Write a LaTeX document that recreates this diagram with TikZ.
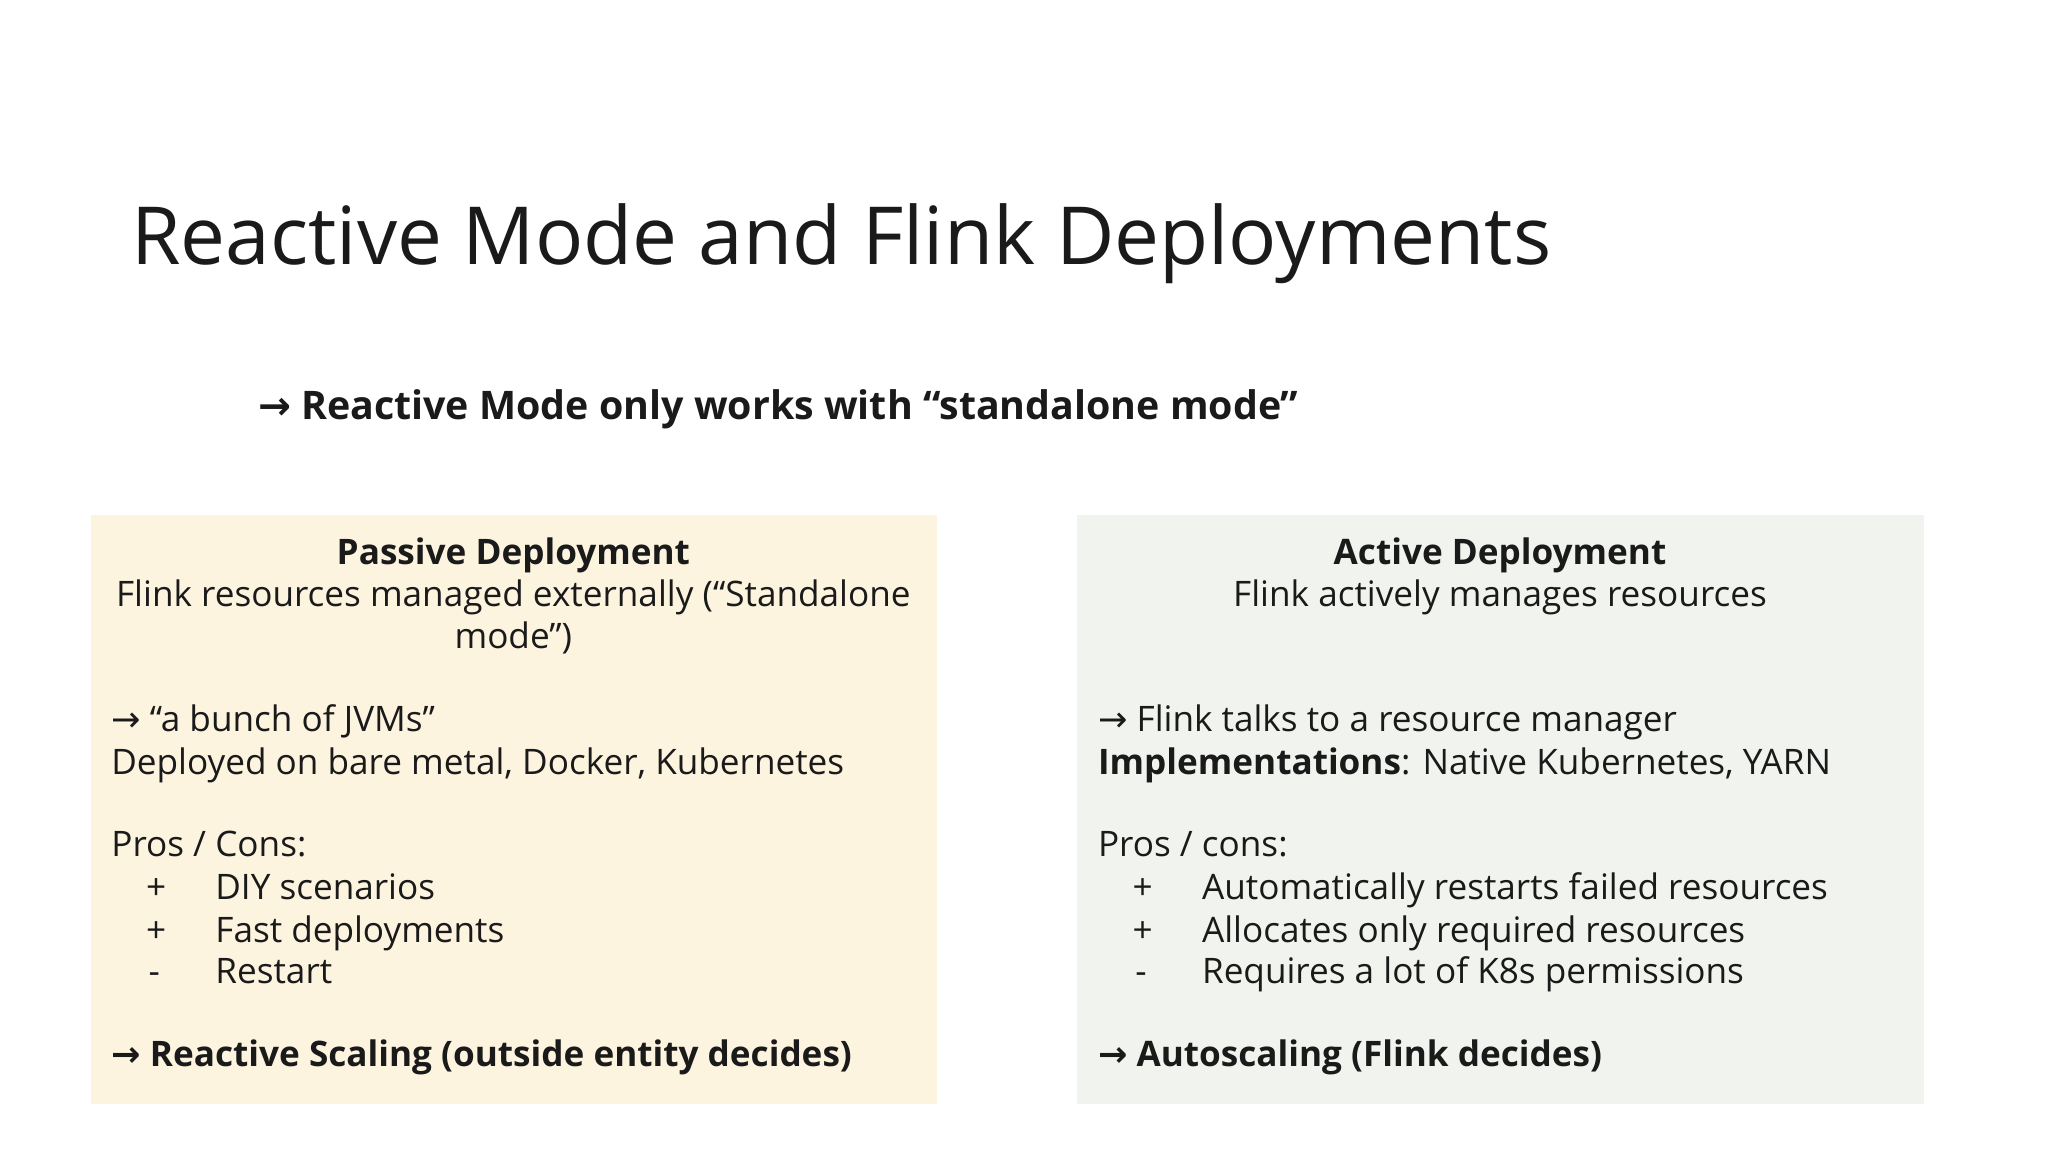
\documentclass[tikz,border=0pt]{standalone}
\usepackage{fontspec}
\setmainfont{Open Sans}
\newfontfamily\arr{DejaVu Sans}
\newcommand{\ar}{{\arr →}}
\definecolor{ylw}{HTML}{FDF4E0}
\definecolor{grn}{HTML}{F1F4EE}
\definecolor{ink}{HTML}{1A1A1A}
\begin{document}
\begin{tikzpicture}[x=0.013333cm,y=-0.013333cm,
  tx/.style={anchor=west,inner sep=0,text height=0.75em,text depth=0.25em,font=\fontsize{10}{12}\selectfont,text=ink},
  ctr/.style={inner sep=0,text height=0.75em,text depth=0.25em,font=\fontsize{10}{12}\selectfont,text=ink}]
\useasboundingbox[fill=white] (0,0) rectangle (1536,864);
\fill[ylw] (68,386) rectangle (703,828);
\fill[grn] (808,386) rectangle (1443,828);
\node[anchor=west,inner sep=0,font=\fontsize{22.8}{26}\selectfont,text=ink] (title) at (98,183) {Reactive Mode and Flink Deployments};
\node[tx,font=\fontsize{11.2}{13}\selectfont\bfseries] (sub) at (193,308) {\ar{} Reactive Mode only works with “standalone mode”};
% left
\node[ctr,font=\fontsize{10}{12}\selectfont\bfseries] (l1) at (385,417) {Passive Deployment};
\node[ctr] (l2) at (385,448) {Flink resources managed externally (“Standalone};
\node[ctr] (l3) at (385,480) {mode”)};
\node[tx] (l4) at (83,542) {\ar{} “a bunch of JVMs”};
\node[tx] (l5) at (83,574) {Deployed on bare metal, Docker, Kubernetes};
\node[tx] (l6) at (83,636) {Pros / Cons:};
\node[tx] (l7a) at (109,668) {+}; \node[tx] (l7) at (161,668) {DIY scenarios};
\node[tx] (l8a) at (109,700) {+}; \node[tx] (l8) at (161,700) {Fast deployments};
\node[tx] (l9a) at (111,731) {-}; \node[tx] (l9) at (161,731) {Restart};
\node[tx,font=\fontsize{10}{12}\selectfont\bfseries] (l10) at (83,793) {\ar{} Reactive Scaling (outside entity decides)};
% right
\node[ctr,font=\fontsize{10}{12}\selectfont\bfseries] (r1) at (1125,417) {Active Deployment};
\node[ctr] (r2) at (1125,448) {Flink actively manages resources};
\node[tx] (r4) at (823,542) {\ar{} Flink talks to a resource manager};
\node[tx] (r5) at (823,574) {\textbf{Implementations}: Native Kubernetes, YARN};
\node[tx] (r6) at (823,636) {Pros / cons:};
\node[tx] (r7a) at (849,668) {+}; \node[tx] (r7) at (901,668) {Automatically restarts failed resources};
\node[tx] (r8a) at (849,700) {+}; \node[tx] (r8) at (901,700) {Allocates only required resources};
\node[tx] (r9a) at (851,731) {-}; \node[tx] (r9) at (901,731) {Requires a lot of K8s permissions};
\node[tx,font=\fontsize{10}{12}\selectfont\bfseries] (r10) at (823,793) {\ar{} Autoscaling (Flink decides)};
\end{tikzpicture}
\end{document}
